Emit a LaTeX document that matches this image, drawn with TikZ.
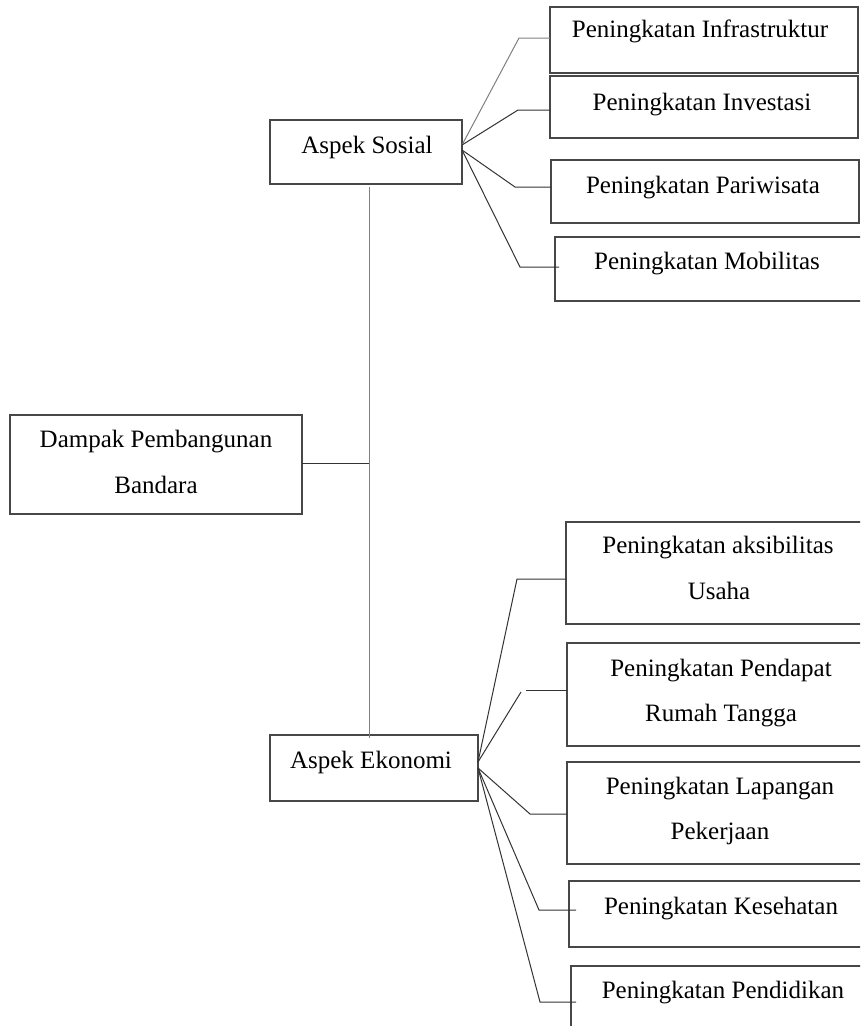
\documentclass[tikz,border=0pt]{standalone}
\usepackage{fontspec}
\setmainfont{Liberation Serif}
\usetikzlibrary{calc}
\begin{document}
\begin{tikzpicture}[x=1pt,y=-1pt,
  box/.style={draw=black!72,line width=1.3pt,inner sep=0pt,outer sep=0pt},
  lbl/.style={font=\fontsize{25}{30}\selectfont,inner sep=0pt,anchor=base,text=black},
  con/.style={draw=black!80,line width=1pt},
  lcon/.style={draw=black!50,line width=1pt}]
\clip (0,0) rectangle (860,1026);
\fill[white] (0,0) rectangle (860,1026);

% main boxes
\node[box,minimum width=192pt,minimum height=64pt] (sos) at (366,152) {};
\node[box,minimum width=292pt,minimum height=99pt] (dam) at (156,464.5) {};
\node[box,minimum width=208pt,minimum height=66pt] (eko) at (374,768) {};

% social boxes
\node[box,minimum width=308pt,minimum height=66pt] (inf) at (704,40) {};
\node[box,minimum width=308pt,minimum height=62pt] (inv) at (704,107) {};
\node[box,minimum width=308pt,minimum height=63pt] (par) at (705,191.5) {};
\node[box,minimum width=315pt,minimum height=64pt] (mob) at (712.5,269) {};

% economic boxes
\node[box,minimum width=309pt,minimum height=102pt] (aks) at (720.5,573) {};
\node[box,minimum width=308pt,minimum height=103pt] (pdp) at (721,694.5) {};
\node[box,minimum width=308pt,minimum height=102pt] (lap) at (721,813) {};
\node[box,minimum width=306pt,minimum height=66pt] (kes) at (722,914) {};
\node[box,minimum width=304pt,minimum height=74pt] (pdd) at (723,1003) {};

% labels
\node[lbl] (sosT) at (367,153) {Aspek Sosial};
\node[lbl] (damT1) at (156,447) {Dampak Pembangunan};
\node[lbl] (damT2) at (156,493) {Bandara};
\node[lbl] (ekoT) at (371,768) {Aspek Ekonomi};
\node[lbl] (infT) at (700,37) {Peningkatan Infrastruktur};
\node[lbl] (invT) at (702,110) {Peningkatan Investasi};
\node[lbl] (parT) at (703,193) {Peningkatan Pariwisata};
\node[lbl] (mobT) at (707,269) {Peningkatan Mobilitas};
\node[lbl] (aksT1) at (718,553) {Peningkatan aksibilitas};
\node[lbl] (aksT2) at (719,599) {Usaha};
\node[lbl] (pdpT1) at (721,676) {Peningkatan Pendapat};
\node[lbl] (pdpT2) at (721,721) {Rumah Tangga};
\node[lbl] (lapT1) at (720,794) {Peningkatan Lapangan};
\node[lbl] (lapT2) at (720,839) {Pekerjaan};
\node[lbl] (kesT) at (721,914) {Peningkatan Kesehatan};
\node[lbl] (pddT) at (723,998) {Peningkatan Pendidikan};

% spine
\coordinate (jt) at (369,463);
\draw[lcon] ($(sos.south -| jt)+(0,3)$) -- ($(eko.north -| jt)+(0,3)$);
\draw[con] (dam.east |- jt) -- (jt);

% social fan
\coordinate (so1) at (462,145);
\coordinate (so2) at (462,150);
\coordinate (e1) at (519,38);
\coordinate (e2) at (518,110);
\coordinate (e3) at (515,187);
\coordinate (e4) at (520,267);
\draw[lcon] (so1) -- (e1) -- (inf.west |- e1);
\draw[con] (so1) -- (e2) -- (inv.west |- e2);
\draw[con] (so2) -- (e3) -- (par.west |- e3);
\draw[con] (so2) -- (e4) -- ($(mob.west |- e4)+(4,0)$);

% economic fan
\coordinate (eo1) at (478,762);
\coordinate (eo2) at (478,768);
\coordinate (a1) at (517,579);
\coordinate (a2) at (521,692);
\coordinate (a2b) at (526,690);
\coordinate (a3) at (530,814);
\coordinate (a4) at (539,910);
\coordinate (a5) at (540,1002);
\draw[con] (eo1) -- (a1) -- (aks.west |- a1);
\draw[con] (eo1) -- (a2);
\draw[con] (a2b) -- (pdp.west |- a2b);
\draw[con] (eo2) -- (a3) -- (lap.west |- a3);
\draw[con] (eo2) -- (a4) -- ($(kes.west |- a4)+(7,0)$);
\draw[con] (eo2) -- (a5) -- ($(pdd.west |- a5)+(5,0)$);
\end{tikzpicture}
\end{document}
